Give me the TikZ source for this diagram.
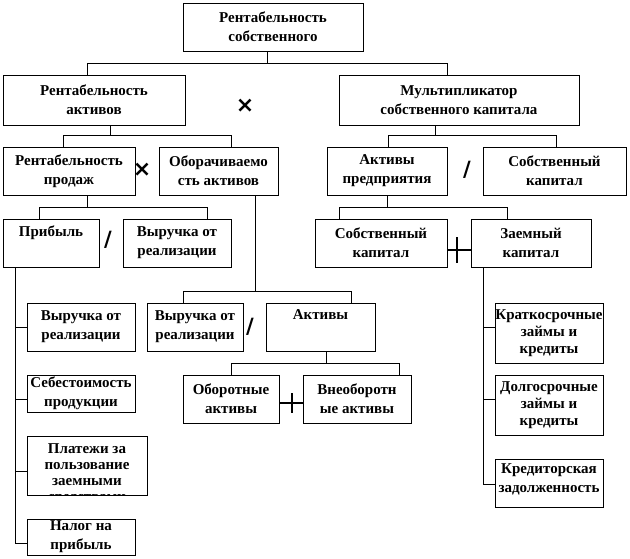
\documentclass[tikz,border=0pt]{standalone}
\usepackage{fontspec}
\setmainfont{Liberation Serif}
\newfontfamily\opfont{DejaVu Sans}
\begin{document}
\begin{tikzpicture}[x=1pt,y=-1pt,
  box/.style={draw=black, line width=0.7pt, inner sep=0pt, align=center,
    font=\fontsize{15}{19}\selectfont\bfseries},
  tri/.style={box, font=\fontsize{15}{17}\selectfont\bfseries},
  txt/.style={inner sep=0pt, align=center, font=\fontsize{15}{16}\selectfont\bfseries},
  conn/.style={draw=black, line width=0.6pt},
  opx/.style={inner sep=0pt, font=\fontsize{22}{22}\selectfont\opfont\bfseries},
  opsl/.style={inner sep=0pt, font=\fontsize{21}{21}\selectfont\opfont\bfseries},
  plusline/.style={draw=black, line width=1.5pt}]
\useasboundingbox (0,0) rectangle (630,558);
\fill[white] (0,0) rectangle (630,558);

% boxes
\node[box, minimum width=180, minimum height=48] (top) at (273,27) {Рентабельность\\собственного};
\node[box, minimum width=182, minimum height=50] (ra) at (94,100) {Рентабельность\\активов};
\node[box, minimum width=240, minimum height=50] (mult) at (459,100) {Мультипликатор\\собственного капитала};
\node[box, minimum width=132, minimum height=48] (rp) at (69,171) {Рентабельность\\продаж};
\node[box, minimum width=119, minimum height=48] (ob) at (218.5,171) {Оборачиваемо\\сть активов};
\node[box, minimum width=120, minimum height=48] (ap) at (387,171) {Активы\\предприятия};
\node[box, minimum width=143, minimum height=48] (sk1) at (554.5,171) {Собственный\\капитал};
\node[box, minimum width=96, minimum height=48] (pr) at (51,243) {Прибыль\\\strut};
\node[box, minimum width=108, minimum height=48] (vr1) at (177,243) {Выручка от\\реализации};
\node[box, minimum width=132, minimum height=48] (sk2) at (381,243) {Собственный\\капитал};
\node[box, minimum width=120, minimum height=48] (zk) at (531,243) {Заемный\\капитал};
\node[box, minimum width=108, minimum height=48] (vr3) at (81,327) {Выручка от\\реализации};
\node[box, minimum width=96, minimum height=48] (vr2) at (195,327) {Выручка от\\реализации};
\node[box, minimum width=109, minimum height=48] (akt) at (320.5,327) {Активы\\\strut};
\node[tri, minimum width=108, minimum height=60] (kz) at (549,333) {Краткосрочные\\займы и\\кредиты};
\node[box, minimum width=108, minimum height=37] (seb) at (81,393.5) {Себестоимость\\продукции};
\node[box, minimum width=96, minimum height=48] (oa) at (231,399) {Оборотные\\активы};
\node[box, minimum width=108, minimum height=48] (va) at (357,399) {Внеоборотн\\ые активы};
\node[tri, minimum width=108, minimum height=60] (dz) at (549,405) {Долгосрочные\\займы и\\кредиты};
\node[box, minimum width=120, minimum height=59] (plat) at (87,465.5) {};
\begin{scope}
  \clip (plat.south west) rectangle (plat.north east);
  \node[txt] (plattext) at (87,474) {Платежи за\\пользование\\заемными\\средствами};
\end{scope}
\node[box, minimum width=108, minimum height=48, text depth=10pt] (kred) at (549,483) {Кредиторская\\задолженность};
\node[box, minimum width=108, minimum height=36] (nal) at (81,537) {Налог на\\прибыль};

% operators
\node[opx] (x1) at (245,106) {×};
\node[opx] (x2) at (142,170) {×};
\node[opsl] (s1) at (467,170) {/};
\node[opsl] (s2) at (108,240) {/};
\node[opsl] (s3) at (250,327) {/};
\draw[plusline] (sk2.east |- 0,250) -- (zk.west |- 0,250);
\draw[plusline] (457,237) -- (457,263);
\draw[plusline] (oa.east |- 0,403) -- (va.west |- 0,403);
\draw[plusline] (292,393) -- (292,413);

% tree connectors
\draw[conn] (top.south -| 267,0) -- (267,63);
\draw[conn] (ra.north -| 87,0) -- (87,63) -- (447,63) -- (mult.north -| 447,0);
\draw[conn] (ra.south -| 110,0) -- (110,135);
\draw[conn] (rp.north -| 63,0) -- (63,135) -- (231,135) -- (ob.north -| 231,0);
\draw[conn] (mult.south -| 435,0) -- (435,135);
\draw[conn] (ap.north -| 388,0) -- (388,135) -- (556,135) -- (sk1.north -| 556,0);
\draw[conn] (rp.south -| 87,0) -- (87,207);
\draw[conn] (pr.north -| 39,0) -- (39,207) -- (207,207) -- (vr1.north -| 207,0);
\draw[conn] (ob.south -| 255,0) -- (255,291);
\draw[conn] (vr2.north -| 183,0) -- (183,291) -- (351,291) -- (akt.north -| 351,0);
\draw[conn] (ap.south -| 387,0) -- (387,207);
\draw[conn] (sk2.north -| 339,0) -- (339,207) -- (507,207) -- (zk.north -| 507,0);
\draw[conn] (akt.south -| 326,0) -- (326,363);
\draw[conn] (oa.north -| 231,0) -- (231,363) -- (399,363) -- (va.north -| 399,0);

% left column
\draw[conn] (pr.south -| 15,0) -- (15,543) -- (nal.west |- 0,543);
\draw[conn] (15,327) -- (vr3.west |- 0,327);
\draw[conn] (15,399) -- (seb.west |- 0,399);
\draw[conn] (15,471) -- (plat.west |- 0,471);

% right column
\draw[conn] (zk.south -| 483,0) -- (483,484) -- (kred.west |- 0,484);
\draw[conn] (483,327) -- (kz.west |- 0,327);
\draw[conn] (483,399) -- (dz.west |- 0,399);
\end{tikzpicture}
\end{document}
